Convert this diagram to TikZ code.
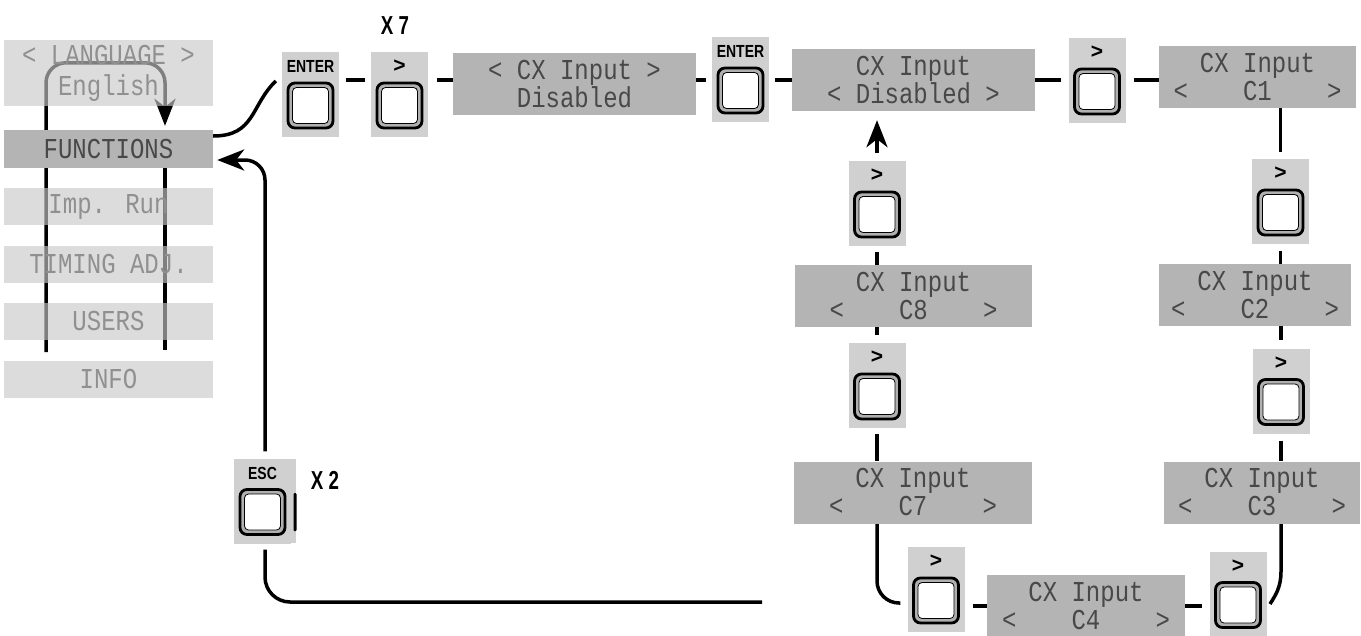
\documentclass[tikz,border=0pt]{standalone}
\usepackage{fontspec}
\usepackage{graphicx}
\setmainfont{Liberation Sans}
\newfontfamily\lcdfamily{Liberation Mono}
\usetikzlibrary{calc,arrows.meta,backgrounds}
\definecolor{lcdgray}{HTML}{B4B4B4}
\definecolor{menugray}{HTML}{C8C8C8}
\definecolor{btngray}{HTML}{D0D0D0}
\definecolor{ringgray}{HTML}{B0B0B0}
\definecolor{lcdtext}{HTML}{484848}
\definecolor{menutext}{HTML}{909090}
\newcommand\lcdfont{\lcdfamily\fontsize{24}{30}\selectfont}
\newcommand\lcdl[1]{\scalebox{1}[1.2]{#1}}
\newcommand\lcdrow[1]{\lcdl{\makebox[168pt]{#1}}}
\newcommand\gt{{\fontsize{21}{21}\selectfont\bfseries >}}
\newcommand\cond[1]{\scalebox{0.8}[1]{#1}}
\newcommand\mybtn[4]{%
  \node[btnbg] (#1) at (#2,#3) {};
  \node[btnlabel] (#1-l) at ($(#1.center)+(0,-28)$) {#4};
  \draw[btnouter] ($(#1.center)+(-22.5,-11.5)$) rectangle ($(#1.center)+(22.5,33.5)$);
  \draw[btninner] ($(#1.center)+(-18,-7)$) rectangle ($(#1.center)+(18,29)$);
}
\tikzset{
  conn/.style={line width=3.5pt},
  arr/.style={-{Stealth[length=27pt,width=21pt,inset=8pt]}},
  lcd/.style={fill=lcdgray, inner sep=0pt, minimum height=62pt, text=lcdtext, align=center, font=\lcdfont},
  menu/.style={fill=menugray, fill opacity=0.64, text opacity=1, inner sep=0pt, minimum width=209pt, minimum height=37pt, text=menutext, font=\lcdfont, align=center},
  btnbg/.style={fill=btngray, inner sep=0pt, minimum width=57pt, minimum height=85pt},
  btnlabel/.style={inner sep=0pt, font=\fontsize{17.5}{17.5}\selectfont\bfseries},
  btnouter/.style={line width=2.8pt, rounded corners=7pt, fill=ringgray},
  btninner/.style={line width=0.8pt, rounded corners=4pt, fill=white},
  xlabel/.style={inner sep=0pt, font=\fontsize{26}{26}\selectfont\bfseries},
}
\begin{document}
\begin{tikzpicture}[x=1pt,y=-1pt]
\useasboundingbox (0,0) rectangle (1361,635);
\coordinate (row) at (0,80);
\coordinate (rowB) at (0,603);
\coordinate (rowC) at (0,606);
\coordinate (menuL) at (46,352);
\coordinate (menuR) at (165,350);
\coordinate (retEnd) at (762,602);
\coordinate (c3End) at (1270,604);

% left menu
\node[menu, minimum height=66pt] (LANG) at (108.5,73) {\lcdl{< LANGUAGE >}\\[1pt]\lcdl{English}};
\node[menu, fill=lcdgray, fill opacity=1, text=lcdtext, minimum height=38pt] (FUNC) at (108.5,149) {\lcdl{FUNCTIONS}};
\node[menu] (IMP) at (108.5,206.5) {\lcdl{Imp. Run}};
\node[menu] (TIM) at (108.5,264) {\lcdl{TIMING ADJ.}};
\node[menu] (USR) at (108.5,321.5) {\lcdl{USERS}};
\node[menu] (INFO) at (108.5,379.5) {\lcdl{INFO}};

% LCD boxes
\node[lcd, minimum width=243pt] (CX1) at (574.5,84) {\lcdl{< CX Input >}\\[-2pt]\lcdl{Disabled}};
\node[lcd, minimum width=243pt] (CX2) at (913.5,80) {\lcdl{CX Input}\\[-2pt]\lcdl{< Disabled >}};
\node[lcd, minimum width=197pt] (C1) at (1257.5,77) {\lcdl{CX Input}\\[-2pt]\lcdrow{<\hfill C1\hfill >}};
\node[lcd, minimum width=192pt] (C2) at (1255,295) {\lcdl{CX Input}\\[-2pt]\lcdrow{<\hfill C2\hfill >}};
\node[lcd, minimum width=196pt] (C3) at (1262,492.5) {\lcdl{CX Input}\\[-2pt]\lcdrow{<\hfill C3\hfill >}};
\node[lcd, minimum width=198pt] (C4) at (1086,606) {\lcdl{CX Input}\\[-2pt]\lcdrow{<\hfill C4\hfill >}};
\node[lcd, minimum width=238pt] (C7) at (913,492.5) {\lcdl{CX Input}\\[-2pt]\lcdrow{<\hfill C7\hfill >}};
\node[lcd, minimum width=237pt] (C8) at (913.5,296) {\lcdl{CX Input}\\[-2pt]\lcdrow{<\hfill C8\hfill >}};

% buttons
\mybtn{B1}{310.5}{94.5}{\cond{ENTER}}
\mybtn{B2}{399.5}{94.5}{\gt}
\mybtn{B3}{740.5}{79.5}{\cond{ENTER}}
\mybtn{B4}{1097}{80.5}{\gt}
\mybtn{B5}{1280.5}{201.5}{\gt}
\mybtn{B6}{1281}{391}{\gt}
\mybtn{B7}{1238}{594}{\gt}
\mybtn{B8}{936}{589.5}{\gt}
\mybtn{B9}{877}{385.5}{\gt}
\mybtn{B10}{877}{203.5}{\gt}
\mybtn{ESC}{262.5}{501}{\cond{ESC}}
\fill[btngray] (291,459) rectangle (296,543);
\fill[rounded corners=1pt] (293.5,493) rectangle (296.5,531);

\node[xlabel] (X7) at (395,26) {\scalebox{0.72}[1]{X 7}};
\node[xlabel] (X2) at (325,480) {\scalebox{0.72}[1]{X 2}};

\coordinate (langTop) at ([yshift=-23pt]LANG.north);
\coordinate (funcTop) at ([yshift=4pt]FUNC.north);
\coordinate (funcIn) at ([yshift=-11pt]FUNC.east);
\coordinate (funcOut) at ([yshift=13pt]FUNC.east);
\coordinate (b1In) at ([xshift=-6pt,yshift=13.5pt]B1.west);
\coordinate (escTop) at ([xshift=2.5pt,yshift=7pt]ESC.north);
\coordinate (escBot) at ([xshift=2.5pt,yshift=-6pt]ESC.south);

\begin{scope}[on background layer]
\draw[conn,arr,rounded corners=20pt] (menuL) |- (langTop -| menuR) -- (funcTop -| menuR);
\draw[conn] (FUNC.south -| menuR) -- (menuR);
\draw[conn,arr,rounded corners=20pt,shorten >=4pt] (escTop) |- (funcIn);
\draw[conn,rounded corners=25pt] (escBot) |- (retEnd);
\draw[conn] (funcOut) .. controls +(42,0) and +(-25,24) .. (b1In);
% top row
\draw[conn,shorten <=7pt,shorten >=6pt] (B1.east |- row) -- (B2.west |- row);
\draw[conn,shorten <=9pt] (B2.east |- row) -- (CX1.west |- row);
\draw[conn,shorten >=6pt] (CX1.east |- row) -- (B3.west |- row);
\draw[conn,shorten <=6pt] (B3.east |- row) -- (CX2.west |- row);
\draw[conn,shorten >=7pt] (CX2.east |- row) -- (B4.west |- row);
\draw[conn,shorten <=8pt] (B4.east |- row) -- (C1.west |- row);
% right column
\draw[conn,shorten >=7pt] (C1.south -| B5) -- (B5.north);
\draw[conn,shorten <=7pt] (B5.south) -- (C2.north -| B5);
\draw[conn,shorten >=8pt] (C2.south -| B6) -- (B6.north);
\draw[conn,shorten <=7pt] (B6.south) -- (C3.north -| B6);
\draw[conn] (C3.south -| B6) -- ++(0,48) .. controls +(0,16) and +(5,-8) .. (c3End);
% bottom row
\draw[conn,shorten <=8pt] (B8.east |- rowC) -- (C4.west |- rowC);
\draw[conn,shorten >=7pt] (C4.east |- rowC) -- (B7.west |- rowC);
% left column
\draw[conn,rounded corners=22pt,shorten >=7pt] (C7.south -| B9) |- (B8.west |- rowB);
\draw[conn,shorten <=6pt] (B9.south) -- (C7.north -| B9);
\draw[conn,shorten >=8pt] (C8.south -| B9) -- (B9.north);
\draw[conn,shorten >=6pt] (C8.north -| B10) -- (B10.south);
\draw[conn,arr,shorten <=8pt,shorten >=9pt] (B10.north) -- (CX2.south -| B10);
\end{scope}
\end{tikzpicture}
\end{document}
